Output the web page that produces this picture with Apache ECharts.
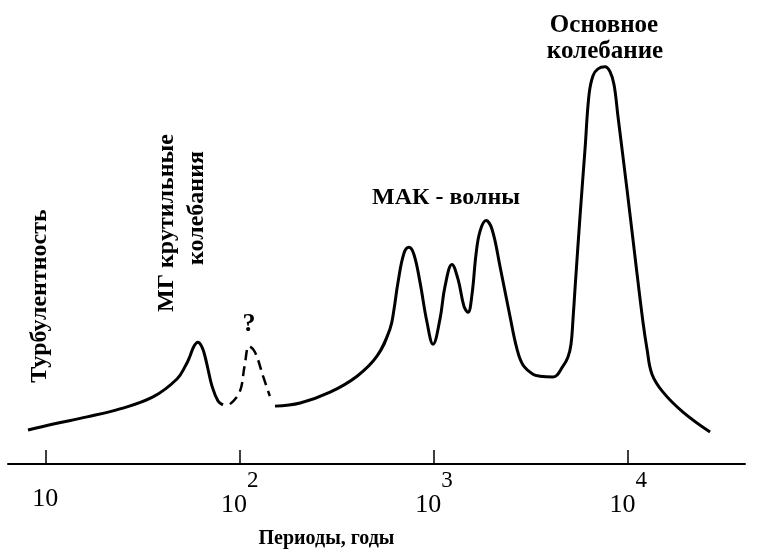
<!DOCTYPE html>
<html>
<head>
<meta charset="utf-8">
<script src="https://cdn.jsdelivr.net/npm/echarts@6/dist/echarts.min.js"></script>
<style>
html,body{margin:0;padding:0;background:#fff;}
#chart{width:761px;height:554px;}
</style>
</head>
<body>
<div id="chart"></div>
<script>
// Periods (years) and relative spectral amplitude
const solidLeftPeriods = [8.14, 11.0, 16.4, 24.2, 35.8, 47.6, 52.9, 55.5, 58.2, 61.0, 64.0, 66.3, 68.7, 72.1, 77.4, 82.1];
const solidLeftValues  = [8.5, 10, 11.8, 13.8, 16.8, 21.3, 24.8, 27, 29.5, 30.5, 29.3, 27, 23.8, 19.5, 15.8, 14.8];

const dashedPeriods = [89.2, 100, 106, 112, 120, 132, 143];
const dashedValues  = [15, 18, 24.5, 29.5, 28, 22, 17];

const solidRightPeriods = [152, 205, 292, 402, 509, 594, 623, 653, 701, 744, 789, 848, 921, 989, 1074, 1140, 1238, 1330, 1428, 1497, 1570, 1646, 1726, 1853, 1990, 2188, 2462, 2676, 2873, 3234, 3514, 4100, 4615, 4897, 5075, 5197, 5320, 5645, 5990, 6281, 6585, 6987, 7593, 8055, 8450, 8858, 9853, 10830, 11910, 12490, 13250, 15100, 19130, 26360];
const solidRightValues  = [14.5, 15.3, 18, 22, 27, 33.8, 38.8, 45.5, 52.8, 54.3, 52.5, 45.5, 35.5, 30, 36.3, 44.5, 50, 46.3, 39.5, 38, 42.5, 52.5, 58.3, 61, 58.8, 49.5, 37, 28.8, 24.8, 22.5, 22, 21.8, 24.5, 26.8, 30, 36.3, 43.8, 62, 78.8, 92.5, 97.3, 99, 99.5, 98.3, 95, 87, 68.8, 52, 35.5, 28.8, 22.5, 18, 13, 8];

const tickValues = [10, 100, 1000, 10000];
const tickBases = ['10', '10', '10', '10'];
const tickExponents = ['', '2', '3', '4'];

const axisTitle = 'Периоды, годы';
const annTurb = 'Турбулентность';
const annMG1 = 'МГ крутильные';
const annMG2 = 'колебания';
const annMAK = 'МАК - волны';
const annMain1 = 'Основное';
const annMain2 = 'колебание';
const annQ = '?';

const pairs = (xs, ys) => xs.map((x, i) => [x, ys[i]]);
const SERIF = '"Liberation Serif", "DejaVu Serif", serif';

const chart = echarts.init(document.getElementById('chart'), null, {renderer: 'canvas'});

const textEl = (txt, x, y, rot, size, extra) => Object.assign({
  type: 'text', x: x, y: y, rotation: rot || 0,
  style: Object.assign({
    text: txt, fill: '#000', font: 'bold ' + size + 'px ' + SERIF,
    textAlign: 'center', textVerticalAlign: 'middle'
  }, extra || {})
});

chart.setOption({
  animation: false,
  backgroundColor: '#fff',
  grid: {left: 8, right: 16, top: 0, bottom: 89, containLabel: false},
  xAxis: {
    type: 'log', logBase: 10, min: 6.425, max: 39890,
    name: axisTitle, nameLocation: 'middle', nameGap: 65,
    nameTextStyle: {fontFamily: SERIF, fontWeight: 'bold', fontSize: 20, color: '#000', padding: [0, 100, 0, 0]},
    axisLine: {show: true, lineStyle: {color: '#000', width: 2}},
    axisTick: {show: true, inside: true, length: 14, customValues: tickValues, lineStyle: {color: '#000', width: 1.5}},
    axisLabel: {
      show: true, margin: 5, customValues: tickValues,
      formatter: function (v) {
        const i = tickValues.findIndex(t => Math.abs(t - v) / t < 1e-6);
        if (i < 0) return '';
        if (!tickExponents[i]) return '{b|' + tickBases[i] + '}';
        return '{a|' + tickBases[i] + '}{s|' + tickExponents[i] + '}';
      },
      rich: {
        a: {fontFamily: SERIF, fontSize: 26, color: '#000', lineHeight: 49, verticalAlign: 'bottom'},
        s: {fontFamily: SERIF, fontSize: 23, color: '#000', verticalAlign: 'top'},
        b: {fontFamily: SERIF, fontSize: 26, color: '#000', lineHeight: 60}
      }
    },
    splitLine: {show: false},
    minorTick: {show: false}
  },
  yAxis: {type: 'value', min: 0, max: 116.25, show: false, splitLine: {show: false}},
  series: [
    {type: 'line', data: pairs(solidLeftPeriods, solidLeftValues), symbol: 'none', smooth: 0.4,
     lineStyle: {color: '#000', width: 3}},
    {type: 'line', data: pairs(dashedPeriods, dashedValues), symbol: 'none', smooth: 0.4,
     lineStyle: {color: '#000', width: 2.5, type: [10, 6]}},
    {type: 'line', data: pairs(solidRightPeriods, solidRightValues), symbol: 'none', smooth: 0.4,
     lineStyle: {color: '#000', width: 3}}
  ],
  graphic: [
    textEl(annTurb, 40, 296, Math.PI / 2, 24),
    textEl(annMG1, 167, 223, Math.PI / 2, 24),
    textEl(annMG2, 197, 208, Math.PI / 2, 24),
    textEl(annMAK, 446, 198, 0, 24),
    textEl(annMain1, 604, 26, 0, 25),
    textEl(annMain2, 605, 52, 0, 25),
    textEl(annQ, 249, 324, 0, 26, {font: 'bold 26px ' + SERIF})
  ]
});
</script>
</body>
</html>
